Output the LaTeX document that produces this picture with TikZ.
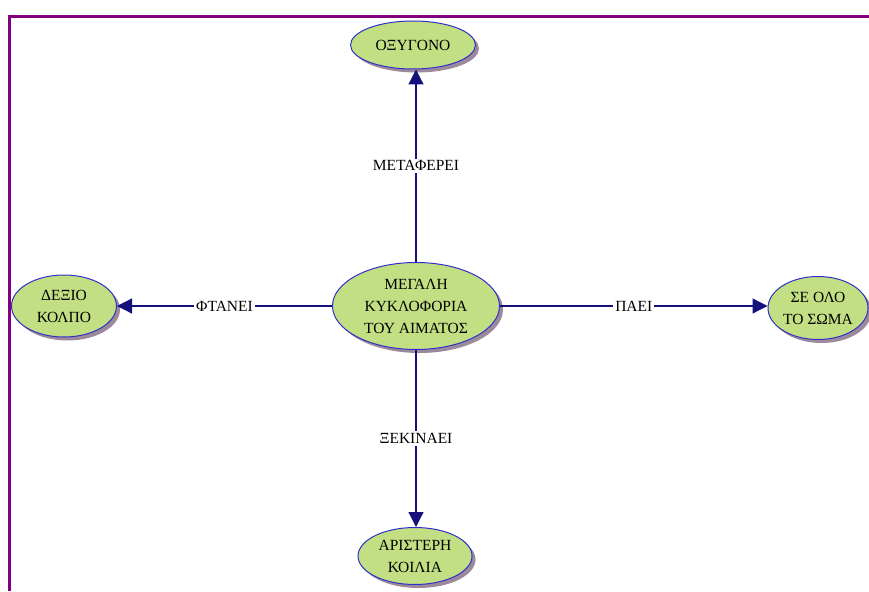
\documentclass[tikz,border=0pt]{standalone}
\usepackage{fontspec}
\setmainfont{Liberation Serif}
\usetikzlibrary{shapes.geometric,arrows.meta,shadows}
\definecolor{framec}{HTML}{800080}
\definecolor{nodefill}{HTML}{C3DF84}
\definecolor{nodeline}{HTML}{3030C8}
\definecolor{shadowc}{HTML}{9C8A9C}
\definecolor{linkc}{HTML}{14127A}
\tikzset{
  concept/.style={ellipse, draw=nodeline, line width=1pt, fill=nodefill,
    inner sep=0pt, align=center,
    font=\fontsize{15.5}{22}\selectfont,
    drop shadow={shadow xshift=3.5pt, shadow yshift=-3.5pt, fill=shadowc, opacity=1}},
  link/.style={draw=linkc, line width=1.2pt,
    -{Triangle[length=15pt,width=15pt]}},
  linklabel/.style={fill=white, inner sep=2pt, font=\fontsize{15.5}{18}\selectfont}
}
\begin{document}
\begin{tikzpicture}[x=1pt,y=-1pt]
  \useasboundingbox (0,0) rectangle (869,591);
  % frame
  \draw[framec, line width=3pt] (9.5,591) -- (9.5,16.5) -- (869,16.5);
  % concepts
  \node[concept, minimum width=125pt, minimum height=48pt] (oxy) at (413,45) {ΟΞΥΓΟΝΟ};
  \node[concept, minimum width=167pt, minimum height=87pt] (main) at (416,306)
    {ΜΕΓΑΛΗ\\ΚΥΚΛΟΦΟΡΙΑ\\ΤΟΥ ΑΙΜΑΤΟΣ};
  \node[concept, minimum width=105pt, minimum height=62pt] (right) at (64,306)
    {ΔΕΞΙΟ\\ΚΟΛΠΟ};
  \node[concept, minimum width=100pt, minimum height=63pt] (body) at (818,308)
    {ΣΕ ΟΛΟ\\ΤΟ ΣΩΜΑ};
  \node[concept, minimum width=114pt, minimum height=57pt] (left) at (415,556)
    {ΑΡΙΣΤΕΡΗ\\ΚΟΙΛΙΑ};
  % links
  \draw[link] (main.north) -- node[linklabel] {ΜΕΤΑΦΕΡΕΙ} (main.north |- oxy.south);
  \draw[link] (main.west) -- node[linklabel] {ΦΤΑΝΕΙ} (right.east |- main.west);
  \draw[link] (main.east) -- node[linklabel] {ΠΑΕΙ} (body.west |- main.east);
  \draw[link] (main.south) -- node[linklabel] {ΞΕΚΙΝΑΕΙ} (main.south |- left.north);
\end{tikzpicture}
\end{document}
